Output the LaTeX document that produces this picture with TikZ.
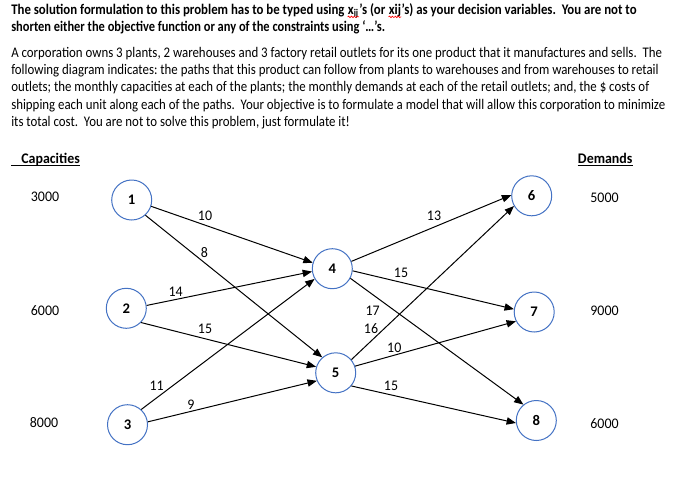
\documentclass[tikz,border=0pt]{standalone}
\usepackage{fontspec}
\setmainfont{Carlito}
\newfontfamily\bodyfont{Carlito}[FakeStretch=0.877]
\newfontfamily\headfont{Carlito}[FakeStretch=0.875]
\newfontfamily\headfontb{Carlito}[FakeStretch=0.848]
\newfontfamily\numfont{Carlito}[FakeStretch=0.95]
\usetikzlibrary{arrows.meta,decorations.pathmorphing}
\definecolor{nodeblue}{RGB}{68,114,196}
\frenchspacing
\begin{document}
\begin{tikzpicture}[x=0.75pt,y=-0.75pt,
  txt/.style={inner sep=0, anchor=base west, font=\fontsize{11}{13}\selectfont\bodyfont},
  ttl/.style={inner sep=0, anchor=base west, font=\fontsize{11}{13}\selectfont\headfont\bfseries},
  ttlb/.style={inner sep=0, anchor=base west, font=\fontsize{11}{13}\selectfont\headfontb\bfseries},
  hdg/.style={inner sep=0, anchor=base west, font=\fontsize{11}{13}\selectfont\numfont\bfseries},
  vert/.style={circle, draw=nodeblue, fill=white, line width=0.75pt, minimum size=30pt, inner sep=0, font=\fontsize{11}{13}\selectfont\bfseries},
  num/.style={inner sep=0, font=\fontsize{11}{13}\selectfont\numfont},
  cost/.style={inner sep=0, font=\fontsize{11}{13}\selectfont\numfont},
  flow/.style={draw=black, line width=0.75pt, -{Triangle[length=7pt,width=5.5pt]}},
  uline/.style={draw=black, line width=0.75pt},
  squig/.style={draw=red, line width=0.5pt, decorate, decoration={snake, amplitude=0.55pt, segment length=2.2pt}}
]
\fill[white] (0,0) rectangle (680,503);
\useasboundingbox (0,0) rectangle (680,503);

% header text
\node[ttl] (t1a) at (11,14.2) {The solution formulation to this problem has to be typed using};
\node[ttl] (x1) at ([xshift=2.2pt]t1a.base east) {x\textsubscript{ij}};
\node[ttl] (t1b) at (x1.base east) {’s (or};
\node[ttl] (x2) at ([xshift=2.2pt]t1b.base east) {xij};
\node[ttl] (t1c) at (x2.base east) {’s) as your decision variables.\ \ You are not to};
\draw[squig] ([yshift=-2pt]x1.base west) -- ([yshift=-2pt]x1.base east);
\draw[squig] ([yshift=-2pt]x2.base west) -- ([yshift=-2pt]x2.base east);
\node[ttlb] (t2) at (11,31.2) {shorten either the objective function or any of the constraints using ‘…’s.};

\node[txt] (p1) at (11,57.3) {A corporation owns 3 plants, 2 warehouses and 3 factory retail outlets for its one product that it manufactures and sells.\ \ The};
\node[txt] (p2) at (11,74.6) {following diagram indicates: the paths that this product can follow from plants to warehouses and from warehouses to retail};
\node[txt] (p3) at (11,91.9) {outlets; the monthly capacities at each of the plants; the monthly demands at each of the retail outlets; and, the \$ costs of};
\node[txt] (p4) at (11,109.2) {shipping each unit along each of the paths.\ \ Your objective is to formulate a model that will allow this corporation to minimize};
\node[txt] (p5) at (11,126.5) {its total cost.\ \ You are not to solve this problem, just formulate it!};

% column headings
\node[hdg] (cap) at (21,163.5) {Capacities};
\draw[uline] ([xshift=-7.5pt,yshift=-1.6pt]cap.base west) -- ([yshift=-1.6pt]cap.base east);
\node[hdg] (dem) at (577.7,163.5) {Demands};
\draw[uline] ([yshift=-1.6pt]dem.base west) -- ([yshift=-1.6pt]dem.base east);

% capacities and demands
\node[num] (c1) at (45,197) {3000};
\node[num] (c2) at (45,310.7) {6000};
\node[num] (c3) at (44,423) {8000};
\node[num] (d6) at (604.5,197.3) {5000};
\node[num] (d7) at (604.5,310.7) {9000};
\node[num] (d8) at (604.5,423.3) {6000};

% network nodes
\node[vert] (n1) at (131.7,200) {1};
\node[vert] (n2) at (126.3,308.3) {2};
\node[vert] (n3) at (127.5,424.7) {3};
\node[vert] (n4) at (332.3,268.7) {4};
\node[vert] (n5) at (335.7,372.8) {5};
\node[vert] (n6) at (531.7,195.8) {6};
\node[vert] (n7) at (534.2,312) {7};
\node[vert] (n8) at (536.3,420.5) {8};

% arcs
\draw[flow] (n1.-18.5) -- (n4.163);
\draw[flow] (n1.-48.8) -- (n5.131);
\draw[flow] (n2.8.5) -- (n4.188.5);
\draw[flow] (n2.-44) -- (n5.163.6);
\draw[flow] (n3.48) -- (n4.210.5);
\draw[flow] (n3.8) -- (n5.203);
\draw[flow] (n4.21.8) -- (n6.178);
\draw[flow] (n4.-6.6) -- (n7.172);
\draw[flow] (n4.-28.5) -- (n8.129.5);
\draw[flow] (n5.40.6) -- (n6.210.6);
\draw[flow] (n5.19.5) -- (n7.207.7);
\draw[flow] (n5.-40) -- (n8.187.5);

% costs
\node[cost] (l14) at (205,216) {10};
\node[cost] (l15) at (204.3,253) {8};
\node[cost] (l24) at (175.7,291.5) {14};
\node[cost] (l25) at (205,329) {15};
\node[cost] (l34) at (156.7,385.7) {11};
\node[cost] (l35) at (191,404.3) {9};
\node[cost] (l46) at (434,216) {13};
\node[cost] (l47) at (401,272.7) {15};
\node[cost] (l48) at (372.7,310.7) {17};
\node[cost] (l56) at (371,328.7) {16};
\node[cost] (l57) at (394.3,347.3) {10};
\node[cost] (l58) at (391,385.5) {15};
\end{tikzpicture}
\end{document}
